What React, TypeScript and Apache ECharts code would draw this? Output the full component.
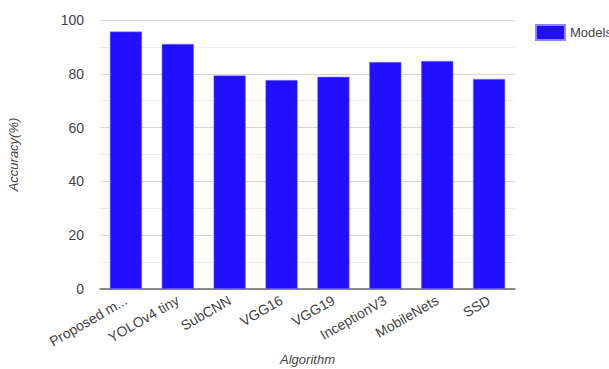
import React, { useEffect, useRef } from "react";
import * as echarts from "echarts";

const categories = ["Proposed m...", "YOLOv4 tiny", "SubCNN", "VGG16", "VGG19", "InceptionV3", "MobileNets", "SSD"];
const accuracy = [95.7, 91.1, 79.4, 77.7, 78.9, 84.4, 84.8, 78.1];
const seriesName = "Models";

export default function App() {
  const ref = useRef<HTMLDivElement>(null);
  useEffect(() => {
    const chart = echarts.init(ref.current!, null, { renderer: "svg" });
    const font = "'Liberation Sans', Arial, sans-serif";
    chart.setOption({
      animation: false,
      textStyle: { fontFamily: font },
      legend: {
        left: 530,
        top: 19,
        itemWidth: 29,
        itemHeight: 15,
        itemGap: 6,
        icon: "rect",
        textStyle: { color: "#444", fontSize: 13, fontFamily: font },
        data: [seriesName],
      },
      grid: { left: 100, right: 94, top: 20, bottom: 80, containLabel: false, outerBoundsMode: "none" },
      xAxis: {
        type: "category",
        data: categories,
        name: "Algorithm",
        nameLocation: "middle",
        nameGap: 64,
        nameMoveOverlap: false,
        nameTextStyle: { fontStyle: "italic", color: "#444", fontSize: 13, fontFamily: font, verticalAlign: "top" },
        axisTick: { show: false },
        axisLine: { lineStyle: { color: "#666", width: 1.5 } },
        axisLabel: {
          rotate: 30,
          color: "#444",
          fontSize: 14,
          fontFamily: font,
          margin: 10,
          interval: 0,
        },
      },
      yAxis: {
        type: "value",
        min: 0,
        max: 100,
        interval: 20,
        name: "Accuracy(%)",
        nameLocation: "middle",
        nameGap: 80,
        nameMoveOverlap: false,
        nameTextStyle: { fontStyle: "italic", color: "#444", fontSize: 13, fontFamily: font },
        axisLabel: { color: "#444", fontSize: 14, fontFamily: font, margin: 16 },
        axisLine: { show: false },
        axisTick: { show: false },
        splitLine: { lineStyle: { color: "#d6d6d6", width: 1 } },
        minorTick: { show: false, splitNumber: 2 },
        minorSplitLine: { show: true, lineStyle: { color: "#ececec", width: 1 } },
      },
      series: [
        {
          name: seriesName,
          type: "bar",
          data: accuracy,
          barWidth: "62%",
          itemStyle: { color: "#2010ff", borderColor: "#8a86ff", borderWidth: 0.5 },
        },
      ],
    });
    return () => chart.dispose();
  }, []);
  return (
    <div
      ref={ref}
      style={{ position: "fixed", left: 0, top: 0, width: 609, height: 369, background: "#fff" }}
    />
  );
}
